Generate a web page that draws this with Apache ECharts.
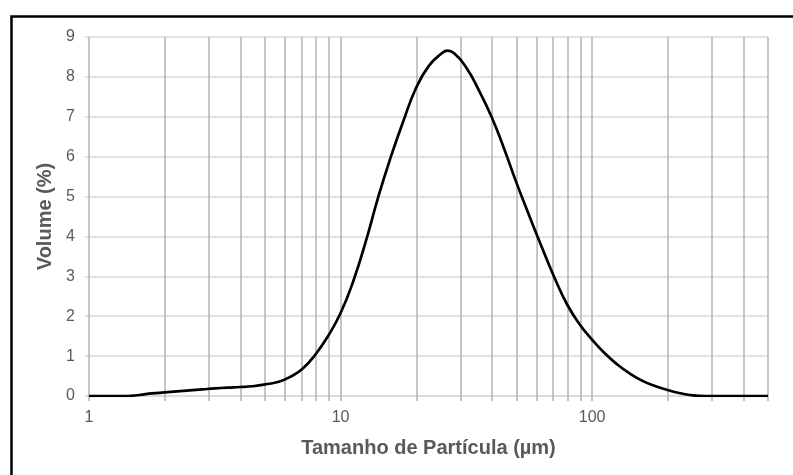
<!DOCTYPE html>
<html>
<head>
<meta charset="utf-8">
<title>Distribuição de Tamanho de Partícula</title>
<script src="https://cdn.jsdelivr.net/npm/echarts@6/dist/echarts.min.js"></script>
<style>
  html, body { margin: 0; padding: 0; background: #ffffff; }
  #chart { width: 793px; height: 475px; }
</style>
</head>
<body>
<div id="chart"></div>
<script>
// Particle size classes (µm), geometric progression of 20 classes per decade, plus the modal size
const sizes = [1.000, 1.122, 1.259, 1.413, 1.585, 1.778, 1.995, 2.239, 2.512, 2.818,
  3.162, 3.548, 3.981, 4.467, 5.012, 5.623, 6.310, 7.079, 7.943, 8.913,
  10.00, 11.22, 12.59, 14.13, 15.85, 17.78, 19.95, 22.39, 25.12, 26.6, 28.18,
  31.62, 35.48, 39.81, 44.67, 50.12, 56.23, 63.10, 70.79, 79.43, 89.13,
  100.0, 112.2, 125.9, 141.3, 158.5, 177.8, 199.5, 223.9, 251.2, 281.8,
  316.2, 354.8, 398.1, 446.7, 500.0];
// Volume fraction in each class (%)
const volumes = [0, 0, 0, 0, 0.025, 0.065, 0.09, 0.115, 0.14, 0.165,
  0.19, 0.21, 0.225, 0.245, 0.29, 0.35, 0.48, 0.69, 1.04, 1.5,
  2.08, 2.87, 3.87, 5.0, 6.0, 6.9, 7.72, 8.27, 8.58, 8.66, 8.6,
  8.23, 7.66, 7.0, 6.2, 5.33, 4.52, 3.73, 2.97, 2.3, 1.8,
  1.41, 1.07, 0.79, 0.56, 0.38, 0.25, 0.15, 0.07, 0.015, 0,
  0, 0, 0, 0, 0];

// Log-scale grid positions (major and minor)
const gridSizes = [1, 2, 3, 4, 5, 6, 7, 8, 9, 10, 20, 30, 40, 50, 60, 70, 80, 90, 100, 200, 300, 400, 500];
const yTicks = [0, 1, 2, 3, 4, 5, 6, 7, 8, 9];

const xAxisTitle = 'Tamanho de Partícula (µm)';
const yAxisTitle = 'Volume (%)';

const font = "'Liberation Sans', Arial, sans-serif";
const textColor = '#595959';

const chart = echarts.init(document.getElementById('chart'), null, { renderer: 'canvas' });

chart.setOption({
  animation: false,
  backgroundColor: '#ffffff',
  graphic: [{
    type: 'rect',
    left: 9, top: 14,
    shape: { x: 0, y: 0, width: 900, height: 600 },
    style: { fill: 'none', stroke: '#000000', lineWidth: 2.5 },
    silent: true,
    z: -1
  }],
  grid: { left: 89, right: 25, top: 37, bottom: 79, containLabel: false },
  xAxis: {
    type: 'log',
    logBase: 10,
    min: 1,
    max: 500,
    name: xAxisTitle,
    nameLocation: 'middle',
    nameGap: 42,
    nameTextStyle: { color: textColor, fontFamily: font, fontSize: 20, fontWeight: 'bold' },
    axisLine: { show: true, lineStyle: { color: '#d9d9d9', width: 1.5 } },
    axisTick: { show: true, customValues: gridSizes, length: 5, lineStyle: { color: '#b3b3b3', width: 1.5 } },
    splitLine: { show: false },
    axisLabel: {
      color: textColor, fontFamily: font, fontSize: 16, margin: 14,
      formatter: function (v) {
        const e = Math.log10(v);
        return Math.abs(e - Math.round(e)) < 1e-6 ? String(Math.round(v)) : '';
      }
    }
  },
  yAxis: {
    type: 'value',
    min: yTicks[0],
    max: yTicks[yTicks.length - 1],
    interval: 1,
    name: yAxisTitle,
    nameLocation: 'middle',
    nameGap: 27,
    nameTextStyle: { color: textColor, fontFamily: font, fontSize: 20, fontWeight: 'bold' },
    axisLine: { show: false },
    axisTick: { show: true, length: 4, lineStyle: { color: '#d9d9d9', width: 1.5 } },
    splitLine: { show: true, lineStyle: { color: '#d9d9d9', width: 1.5 } },
    axisLabel: { color: textColor, fontFamily: font, fontSize: 16, margin: 14 }
  },
  series: [{
    type: 'line',
    data: sizes.map((s, i) => [s, volumes[i]]),
    showSymbol: false,
    symbol: 'none',
    smooth: 0.5,
    lineStyle: { color: '#000000', width: 2.7 },
    z: 5,
    markLine: {
      silent: true,
      symbol: 'none',
      label: { show: false },
      lineStyle: { color: '#b3b3b3', width: 1.5, type: 'solid' },
      data: gridSizes.map(s => ({ xAxis: s })),
      z: 1
    }
  }]
});
</script>
</body>
</html>
